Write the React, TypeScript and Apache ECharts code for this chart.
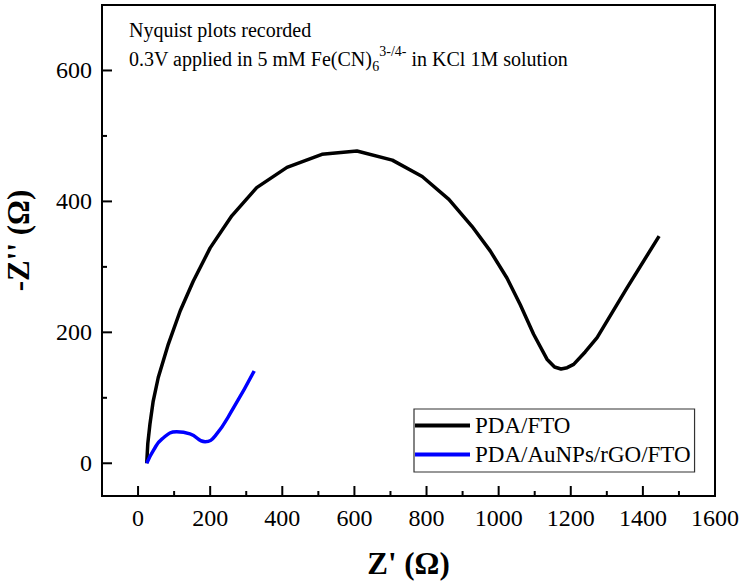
import React, { useEffect, useRef } from "react";
import * as echarts from "echarts";

// PDA/FTO (black) — [Z', -Z'']
const pdaFto: [number, number][] = [
  [24, 0], [27, 30], [33, 60], [42, 95], [56, 131], [84, 182], [117, 233],
  [153, 278], [200, 329], [260, 378], [329, 421], [413, 452], [510, 472],
  [607, 477], [705, 463], [788, 438], [862, 403], [926, 362], [977, 324],
  [1023, 283], [1060, 242], [1097, 197], [1134, 159], [1155, 147],
  [1173, 144], [1190, 146], [1208, 151], [1240, 170], [1273, 192],
  [1356, 268], [1445, 347],
];

// PDA/AuNPs/rGO/FTO (blue)
const pdaAuNPs: [number, number][] = [
  [24, 0], [43, 20], [66, 37], [107, 48], [144, 45], [186, 33],
  [214, 42], [265, 85], [322, 141],
];

const seriesNames = ["PDA/FTO", "PDA/AuNPs/rGO/FTO"];
const seriesColors = ["#000000", "#0000ff"];

const xMajorTicks = [0, 200, 400, 600, 800, 1000, 1200, 1400, 1600];
const xMinorTicks = [100, 300, 500, 700, 900, 1100, 1300, 1500];
const yMajorTicks = [0, 200, 400, 600];
const yMinorTicks = [100, 300, 500];

const xTitle = "Z' (Ω)";
const yTitle = "-Z'' (Ω)";
const noteLine1 = "Nyquist plots recorded";
const noteLine2a = "0.3V applied in 5 mM Fe(CN)";
const noteSub = "6";
const noteSup = "3-/4-";
const noteLine2b = " in KCl 1M solution";

export default function App() {
  const ref = useRef<HTMLDivElement>(null);

  useEffect(() => {
    const chart = echarts.init(ref.current!, null, { renderer: "svg" });
    const fontName = "'Liberation Serif', 'Times New Roman', serif";
    const X_MIN = -100, X_MAX = 1600, Y_MIN = -50, Y_MAX = 700;
    const MAJOR = 10, MINOR = 5;
    const fmt = (v: number) => String(v);

    const ctx = document.createElement("canvas").getContext("2d");
    const measure = (t: string, size: number) => {
      if (!ctx) return t.length * size * 0.5;
      ctx.font = `${size}px ${fontName}`;
      return ctx.measureText(t).width;
    };

    const NOTE_X = 129;
    const subX = NOTE_X + measure(noteLine2a, 20);
    const supX = subX + measure(noteSub, 14);
    const tailX = supX + measure(noteSup, 14);

    const titleItem = (text: string, left: number, top: number, size: number, lh: number) => ({
      text,
      left,
      top,
      padding: 0,
      textStyle: { fontSize: size, fontFamily: fontName, fontWeight: "normal", color: "#000", lineHeight: lh },
    });

    // tick marks drawn through the axes' scales: [x, y, length, direction]
    const tickData: number[][] = [
      ...xMajorTicks.map((v) => [v, Y_MIN, MAJOR, 0]),
      ...xMinorTicks.map((v) => [v, Y_MIN, MINOR, 0]),
      ...yMajorTicks.map((v) => [X_MIN, v, MAJOR, 1]),
      ...yMinorTicks.map((v) => [X_MIN, v, MINOR, 1]),
    ];

    chart.setOption({
      animation: false,
      title: [
        titleItem(noteLine1, NOTE_X, 15, 20, 29),
        titleItem(noteLine2a, NOTE_X, 44, 20, 29),
        titleItem(noteSub, subX, 59, 14, 14),
        titleItem(noteSup, supX, 44, 14, 14),
        titleItem(noteLine2b, tailX, 44, 20, 29),
      ],
      grid: {
        left: 102, right: 25, top: 5, bottom: 90,
        show: true, borderColor: "#000", borderWidth: 2,
        containLabel: false, outerBoundsMode: "none",
      },
      xAxis: {
        type: "value", min: X_MIN, max: X_MAX,
        name: xTitle,
        nameLocation: "middle",
        nameGap: 52,
        nameTextStyle: { fontSize: 31, fontWeight: "bold", fontFamily: fontName, color: "#000" },
        axisLine: { show: true, onZero: false, lineStyle: { color: "#000", width: 2 } },
        axisTick: { show: false },
        axisLabel: { customValues: xMajorTicks, formatter: fmt, margin: 10, fontSize: 24, fontFamily: fontName, color: "#000" },
        splitLine: { show: false },
      },
      yAxis: {
        type: "value", min: Y_MIN, max: Y_MAX,
        name: yTitle,
        nameLocation: "middle",
        nameGap: 68,
        nameTextStyle: { fontSize: 31, fontWeight: "bold", fontFamily: fontName, color: "#000", padding: [0, 0, 0, 20] },
        axisLine: { show: true, onZero: false, lineStyle: { color: "#000", width: 2 } },
        axisTick: { show: false },
        axisLabel: { customValues: yMajorTicks, formatter: fmt, margin: 10, fontSize: 24, fontFamily: fontName, color: "#000" },
        splitLine: { show: false },
      },
      legend: {
        data: seriesNames,
        orient: "vertical",
        left: 414,
        top: 409,
        padding: [5, 4, 6, 1],
        itemGap: 6,
        itemWidth: 55,
        itemHeight: 4,
        icon: "rect",
        borderColor: "#333",
        borderWidth: 1.2,
        textStyle: { fontSize: 23, fontFamily: fontName, color: "#000" },
      },
      series: [
        {
          name: seriesNames[0], type: "line",
          data: pdaFto, showSymbol: false, symbol: "none", smooth: false,
          lineStyle: { color: seriesColors[0], width: 3.5, join: "round" },
          itemStyle: { color: seriesColors[0] },
        },
        {
          name: seriesNames[1], type: "line",
          data: pdaAuNPs, showSymbol: false, symbol: "none", smooth: 0.5,
          lineStyle: { color: seriesColors[1], width: 3.5, join: "round" },
          itemStyle: { color: seriesColors[1] },
        },
        {
          name: "ticks", type: "custom", clip: false, silent: true, z: 5,
          encode: { x: 0, y: 1 },
          data: tickData,
          renderItem: (_params: any, api: any) => {
            const p = api.coord([api.value(0), api.value(1)]);
            const len = api.value(2);
            const vertical = api.value(3) === 0;
            return {
              type: "line",
              shape: vertical
                ? { x1: p[0], y1: p[1], x2: p[0], y2: p[1] - len }
                : { x1: p[0], y1: p[1], x2: p[0] + len, y2: p[1] },
              style: { stroke: "#000", lineWidth: 2 },
            };
          },
        },
      ],
    });

    return () => chart.dispose();
  }, []);

  return (
    <div
      ref={ref}
      style={{ position: "fixed", left: 0, top: 0, width: 740, height: 586, background: "#fff" }}
    />
  );
}
